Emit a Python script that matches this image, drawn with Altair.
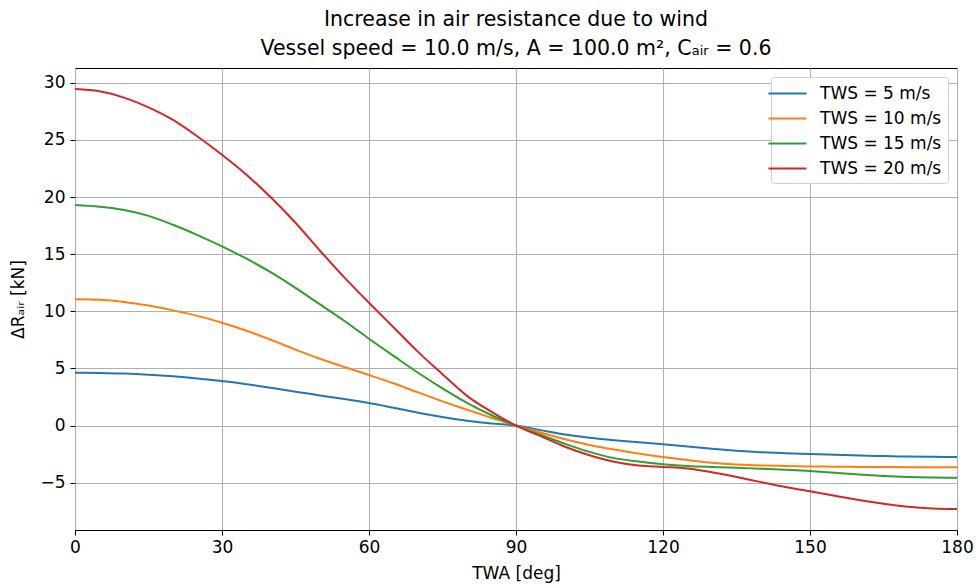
import altair as alt
import pandas as pd

# True wind angle [deg]
twa = [0, 5, 10, 15, 20, 25, 30, 35, 40, 45, 50, 55, 60, 65, 70, 75, 80, 85, 90,
       95, 100, 105, 110, 115, 120, 125, 130, 135, 140, 145, 150, 155, 160, 165, 170, 175, 180]

# Increase in air resistance [kN]
tws5 = [4.62, 4.60, 4.55, 4.45, 4.31, 4.12, 3.89, 3.62, 3.30, 2.96, 2.64, 2.32, 1.97, 1.56, 1.13, 0.75, 0.42, 0.17, 0.0,
        -0.40, -0.78, -1.06, -1.28, -1.46, -1.63, -1.84, -2.03, -2.20, -2.33, -2.42, -2.49, -2.56, -2.62, -2.67, -2.71, -2.74, -2.75]
tws10 = [11.05, 11.0, 10.82, 10.5, 10.08, 9.6, 9.0, 8.3, 7.5, 6.65, 5.85, 5.12, 4.42, 3.7, 2.9, 2.12, 1.38, 0.68, 0.0,
         -0.60, -1.20, -1.70, -2.10, -2.45, -2.76, -3.02, -3.25, -3.40, -3.49, -3.54, -3.58, -3.60, -3.62, -3.63, -3.64, -3.64, -3.64]
tws15 = [19.3, 19.15, 18.87, 18.35, 17.57, 16.67, 15.68, 14.6, 13.4, 12.05, 10.6, 9.15, 7.6, 6.1, 4.62, 3.25, 1.98, 0.9, 0.0,
         -0.80, -1.60, -2.30, -2.85, -3.15, -3.38, -3.54, -3.63, -3.70, -3.77, -3.87, -3.98, -4.13, -4.28, -4.41, -4.50, -4.55, -4.57]
tws20 = [29.45, 29.25, 28.7, 27.85, 26.75, 25.3, 23.7, 21.95, 19.95, 17.75, 15.3, 12.95, 10.75, 8.6, 6.45, 4.5, 2.6, 1.2, 0.0,
         -0.92, -1.85, -2.60, -3.17, -3.50, -3.62, -3.76, -4.08, -4.50, -4.95, -5.38, -5.75, -6.15, -6.52, -6.85, -7.10, -7.25, -7.30]

series_names = ["TWS = 5 m/s", "TWS = 10 m/s", "TWS = 15 m/s", "TWS = 20 m/s"]
series_values = [tws5, tws10, tws15, tws20]
colors = ["#1f77b4", "#ff7f0e", "#2ca02c", "#d62728"]

x_ticks = [0, 30, 60, 90, 120, 150, 180]
y_ticks = [-5, 0, 5, 10, 15, 20, 25, 30]

rows = []
for name, vals in zip(series_names, series_values):
    for a, v in zip(twa, vals):
        rows.append({"TWA": a, "dR": v, "series": name})
df = pd.DataFrame(rows)

FONT = "DejaVu Sans"

chart = alt.Chart(df).mark_line(strokeWidth=2, clip=True, interpolate="monotone").encode(
    x=alt.X("TWA:Q",
            scale=alt.Scale(domain=[0, 180], nice=False, zero=False),
            axis=alt.Axis(values=x_ticks, title="TWA [deg]", titleFontSize=17,
                          titleFontWeight="normal", titleFont=FONT, titleColor="black",
                          titleBaseline="middle", titleY=43,
                          labelFontSize=17, labelFont=FONT, labelColor="black",
                          labelPadding=4, tickSize=5, tickColor="black", tickWidth=1,
                          grid=True, gridColor="#b0b0b0", gridWidth=1.1, domain=False,
                          labelFlush=False)),
    y=alt.Y("dR:Q",
            scale=alt.Scale(domain=[-9.14, 31.29], nice=False, zero=False),
            axis=alt.Axis(values=y_ticks, title="ΔRₐᵢᵣ [kN]", titleFontSize=17,
                          titleFontWeight="normal", titleFont=FONT, titleColor="black",
                          titleAngle=270, titleAlign="center", titleBaseline="middle",
                          titleX=-57, titleY=231,
                          labelFontSize=17, labelFont=FONT, labelColor="black",
                          labelPadding=5, tickSize=5, tickColor="black", tickWidth=1,
                          grid=True, gridColor="#b0b0b0", gridWidth=1.1, domain=False)),
    color=alt.Color("series:N",
                    scale=alt.Scale(domain=series_names, range=colors),
                    sort=series_names,
                    legend=alt.Legend(title=None, orient="none", legendX=696, legendY=9,
                                      symbolType="M-2,0L2,0", symbolSize=361, symbolStrokeWidth=2,
                                      labelFontSize=17, labelFont=FONT, labelColor="black",
                                      labelOffset=22, rowPadding=6, padding=6,
                                      fillColor="white", strokeColor="#d0d0d0",
                                      cornerRadius=3)),
    detail="series:N",
).properties(
    width=882,
    height=462,
    title=alt.TitleParams(
        text=["Increase in air resistance due to wind",
              "Vessel speed = 10.0 m/s, A = 100.0 m², Cₐᵢᵣ = 0.6"],
        fontSize=20.5, font=FONT, fontWeight="normal", color="black",
        anchor="middle", lineHeight=29, offset=9),
    padding={"left": 75, "top": 68, "right": 19, "bottom": 56},
    autosize=alt.AutoSizeParams(type="none"),
).configure_view(stroke="black", strokeWidth=1)

chart.save("out.html", embed_options={"renderer": "svg", "actions": False})
